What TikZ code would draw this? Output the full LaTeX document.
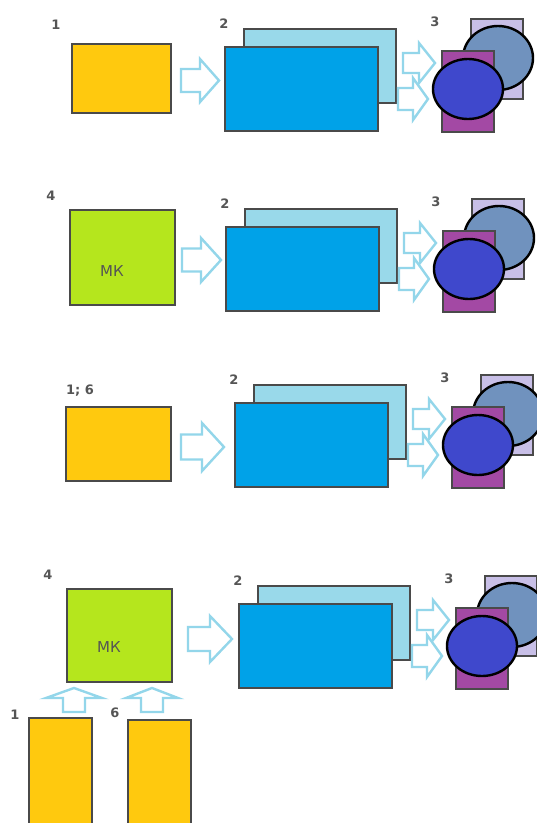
\documentclass[tikz,border=0pt]{standalone}
\usepackage{fontspec}
\setmainfont{DejaVu Sans}

\definecolor{sun}{HTML}{FFC90E}
\definecolor{lime}{HTML}{B5E61D}
\definecolor{skyblue}{HTML}{00A2E8}
\definecolor{paleblue}{HTML}{99D9EA}
\definecolor{lavender}{HTML}{C8BFE7}
\definecolor{plum}{HTML}{A349A4}
\definecolor{steel}{HTML}{7092BE}
\definecolor{royal}{HTML}{3F48CC}
\definecolor{arrowblue}{HTML}{93D6EA}
\definecolor{boxline}{HTML}{4A4A4A}
\definecolor{labelgrey}{HTML}{555555}

\tikzset{
    box/.style={draw=boxline, line width=1.3pt},
    blob/.style={draw=black, line width=2.4pt},
    arrowline/.style={draw=arrowblue, line width=2.4pt},
    num/.style={font=\fontsize{13}{15}\selectfont\bfseries, text=labelgrey, inner sep=0pt},
    mk/.style={font=\fontsize{15}{17}\selectfont, text=labelgrey, inner sep=0pt},
    pics/barrow/.style n args={4}{code={
        \draw[arrowline] (0,-#3/2) -- (#4,-#3/2) -- (#4,-#2/2) -- (#1,0)
            -- (#4,#2/2) -- (#4,#3/2) -- (0,#3/2) -- cycle;
    }},
    pics/outgroup/.style={code={
        \filldraw[box, fill=paleblue] (19,-18) rectangle (171,56);
        \filldraw[box, fill=skyblue] (0,0) rectangle (153,84);
        \node[num] (-two) at (-1,-23) {2};
        \pic at (173,52) {barrow={30}{42}{22}{15}};
        \pic at (178,16) {barrow={32}{40}{20}{16}};
        \node[num] (-three) at (210,-25) {3};
        \filldraw[box, fill=lavender] (246,-28) rectangle (298,52);
        \filldraw[blob, fill=steel] (273,11) ellipse [x radius=35, y radius=32];
        \filldraw[box, fill=plum] (217,4) rectangle (269,85);
        \filldraw[blob, fill=royal] (243,42) ellipse [x radius=35, y radius=30];
    }}
}

\begin{document}
\begin{tikzpicture}[x=1pt, y=-1pt]
    \clip (0,0) rectangle (537,823);
    \fill[white] (0,0) rectangle (537,823);

    % row 1
    \filldraw[box, fill=sun] (72,44) rectangle (171,113);
    \node[num] (one) at (56,25) {1};
    \pic at (181,80.5) {barrow={38}{43}{23}{19}};

    % row 2
    \filldraw[box, fill=lime] (70,210) rectangle (175,305);
    \node[num] (four) at (51,196) {4};
    \node[mk] (mk) at (112,271) {МК};
    \pic at (182,260) {barrow={39}{44}{23}{19}};

    % row 3
    \filldraw[box, fill=sun] (66,407) rectangle (171,481);
    \node[num] (onesix) at (80,391) {1; 6};
    \pic at (181,447) {barrow={43}{48}{25}{21}};

    % row 4
    \filldraw[box, fill=lime] (67,589) rectangle (172,682);
    \node[num] (fourb) at (48,575) {4};
    \node[mk] (mkb) at (109,647) {МК};
    \pic at (188,639) {barrow={44}{46}{24}{22}};
    \filldraw[box, fill=sun] (29,718) rectangle (92,830);
    \filldraw[box, fill=sun] (128,720) rectangle (191,830);
    \node[num] (oneb) at (15,715) {1};
    \node[num] (six) at (115,713) {6};
    \pic[rotate=90] at (74,712) {barrow={24}{56}{22}{14}};
    \pic[rotate=90] at (152,712) {barrow={24}{52}{22}{14}};

    % blocks 2 and 3
    \foreach \x/\y [count=\i] in {225/47, 226/227, 235/403, 239/604}
        \pic (g\i) at (\x,\y) {outgroup};
\end{tikzpicture}
\end{document}
